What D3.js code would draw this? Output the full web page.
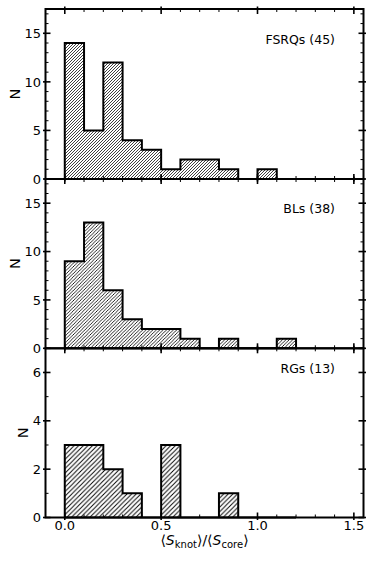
<!DOCTYPE html>
<html>
<head>
<meta charset="utf-8">
<script src="https://cdn.jsdelivr.net/npm/d3@7"></script>
<style>
  html, body { margin: 0; padding: 0; background: #fff; }
  svg { display: block; font-family: "DejaVu Sans", sans-serif; }
</style>
</head>
<body>
<svg id="chart" width="374" height="561"></svg>
<script>
// ---- data ----
const binEdges = [0.0, 0.1, 0.2, 0.3, 0.4, 0.5, 0.6, 0.7, 0.8, 0.9, 1.0, 1.1, 1.2];
const fsrqCounts = [14, 5, 12, 4, 3, 1, 2, 2, 1, 0, 1, 0];
const blCounts   = [9, 13, 6, 3, 2, 2, 1, 0, 1, 0, 0, 1];
const rgCounts   = [3, 3, 2, 1, 0, 3, 0, 0, 1, 0, 0, 0];
const panelLabels = ["FSRQs (45)", "BLs (38)", "RGs (13)"];
const xTicks = [0.0, 0.5, 1.0, 1.5];
const xTickLabels = ["0.0", "0.5", "1.0", "1.5"];
const yTicksA = [0, 5, 10, 15];
const yTicksC = [0, 2, 4, 6];

// ---- layout ----
const W = 374, H = 561;
const left = 45.5, right = 363.5;
const panels = [
  { counts: fsrqCounts, label: panelLabels[0], top: 9,   bottom: 179,   ymax: 17.5, ticks: yTicksA, minorStep: 1, hatch: 3.0, hw: 0.75, labelY: 44,  nX: 20 },
  { counts: blCounts,   label: panelLabels[1], top: 179, bottom: 348.3, ymax: 17.5, ticks: yTicksA, minorStep: 1, hatch: 3.4, hw: 0.85, labelY: 213, nX: 20 },
  { counts: rgCounts,   label: panelLabels[2], top: 348.3, bottom: 517.5, ymax: 7, ticks: yTicksC, minorStep: 1, hatch: 4.6, hw: 0.95, labelY: 373, nX: 27.5 }
];

const svg = d3.select("#chart");
const x = d3.scaleLinear().domain([-0.1, 1.55]).range([left, right]);
const xMinor = d3.range(-0.1, 1.551, 0.1).map(v => Math.round(v * 10) / 10).filter(v => !xTicks.includes(v));

const defs = svg.append("defs");
panels.forEach((p, i) => {
  const h = p.hatch;
  const pat = defs.append("pattern")
    .attr("id", "hatch" + i)
    .attr("patternUnits", "userSpaceOnUse")
    .attr("width", h).attr("height", h);
  pat.append("rect").attr("width", h).attr("height", h).attr("fill", "#fff");
  pat.append("path")
    .attr("d", `M0,${h} L${h},0 M${-h},${h} L0,0 M${h},${2 * h} L${2 * h},${h} M-1,1 L1,-1 M${h - 1},${h + 1} L${h + 1},${h - 1}`)
    .attr("stroke", "#000").attr("stroke-width", p.hw).attr("shape-rendering", "auto");
});

const majIn = 5, majOut = 2.5, minIn = 3;

panels.forEach((p, i) => {
  const y = d3.scaleLinear().domain([0, p.ymax]).range([p.bottom, p.top]);
  const g = svg.append("g");

  // histogram as step outline
  const pts = [[binEdges[0], 0]];
  p.counts.forEach((c, k) => { pts.push([binEdges[k], c]); pts.push([binEdges[k + 1], c]); });
  pts.push([binEdges[p.counts.length], 0]);
  const line = d3.line().x(d => x(d[0])).y(d => y(d[1]));
  g.append("path").attr("d", line(pts) + "Z")
    .attr("fill", `url(#hatch${i})`)
    .attr("stroke", "#000").attr("stroke-width", 2).attr("stroke-linejoin", "miter");

  // ticks
  const tk = g.append("g").attr("stroke", "#000");
  xTicks.forEach(v => {
    const xx = x(v);
    tk.append("line").attr("x1", xx).attr("x2", xx).attr("y1", p.bottom + majOut).attr("y2", p.bottom - majIn).attr("stroke-width", 1.6);
    tk.append("line").attr("x1", xx).attr("x2", xx).attr("y1", p.top - majOut).attr("y2", p.top + majIn).attr("stroke-width", 1.6);
  });
  xMinor.forEach(v => {
    const xx = x(v);
    tk.append("line").attr("x1", xx).attr("x2", xx).attr("y1", p.bottom).attr("y2", p.bottom - minIn).attr("stroke-width", 1);
    tk.append("line").attr("x1", xx).attr("x2", xx).attr("y1", p.top).attr("y2", p.top + minIn).attr("stroke-width", 1);
  });
  const yMinor = d3.range(0, p.ymax + 0.001, p.minorStep).filter(v => !p.ticks.includes(v));
  p.ticks.forEach(v => {
    const yy = y(v);
    tk.append("line").attr("y1", yy).attr("y2", yy).attr("x1", left - majOut).attr("x2", left + majIn).attr("stroke-width", 1.6);
    tk.append("line").attr("y1", yy).attr("y2", yy).attr("x1", right + majOut).attr("x2", right - majIn).attr("stroke-width", 1.6);
  });
  yMinor.forEach(v => {
    const yy = y(v);
    tk.append("line").attr("y1", yy).attr("y2", yy).attr("x1", left).attr("x2", left + minIn).attr("stroke-width", 1);
    tk.append("line").attr("y1", yy).attr("y2", yy).attr("x1", right).attr("x2", right - minIn).attr("stroke-width", 1);
  });

  // y tick labels
  p.ticks.forEach(v => {
    g.append("text").attr("x", 41).attr("y", y(v)).attr("dy", "0.36em")
      .attr("text-anchor", "end").attr("font-size", 13).text(String(v));
  });

  // spines
  g.append("rect").attr("x", left).attr("y", p.top).attr("width", right - left).attr("height", p.bottom - p.top)
    .attr("fill", "none").attr("stroke", "#000").attr("stroke-width", 2);

  // panel label
  g.append("text").attr("x", 335).attr("y", p.labelY).attr("text-anchor", "end")
    .attr("font-size", 12.5).text(p.label);

  // y label
  const cy = (p.top + p.bottom) / 2;
  g.append("text").attr("transform", `translate(${p.nX},${cy}) rotate(-90)`)
    .attr("text-anchor", "middle").attr("font-size", 14.5).text("N");
});

// x tick labels (bottom panel only)
xTicks.forEach((v, k) => {
  svg.append("text").attr("x", x(v)).attr("y", 530).attr("text-anchor", "middle")
    .attr("font-size", 13).text(xTickLabels[k]);
});

// x label
const xl = svg.append("text").attr("x", (left + right) / 2).attr("y", 545).attr("text-anchor", "middle").attr("font-size", 14);
xl.append("tspan").text("\u27E8");
xl.append("tspan").attr("font-style", "italic").text("S");
xl.append("tspan").attr("font-size", 10).attr("dy", 3).text("knot");
xl.append("tspan").attr("dy", -3).text("\u27E9/\u27E8");
xl.append("tspan").attr("font-style", "italic").text("S");
xl.append("tspan").attr("font-size", 10).attr("dy", 3).text("core");
xl.append("tspan").attr("dy", -3).text("\u27E9");
</script>
</body>
</html>
